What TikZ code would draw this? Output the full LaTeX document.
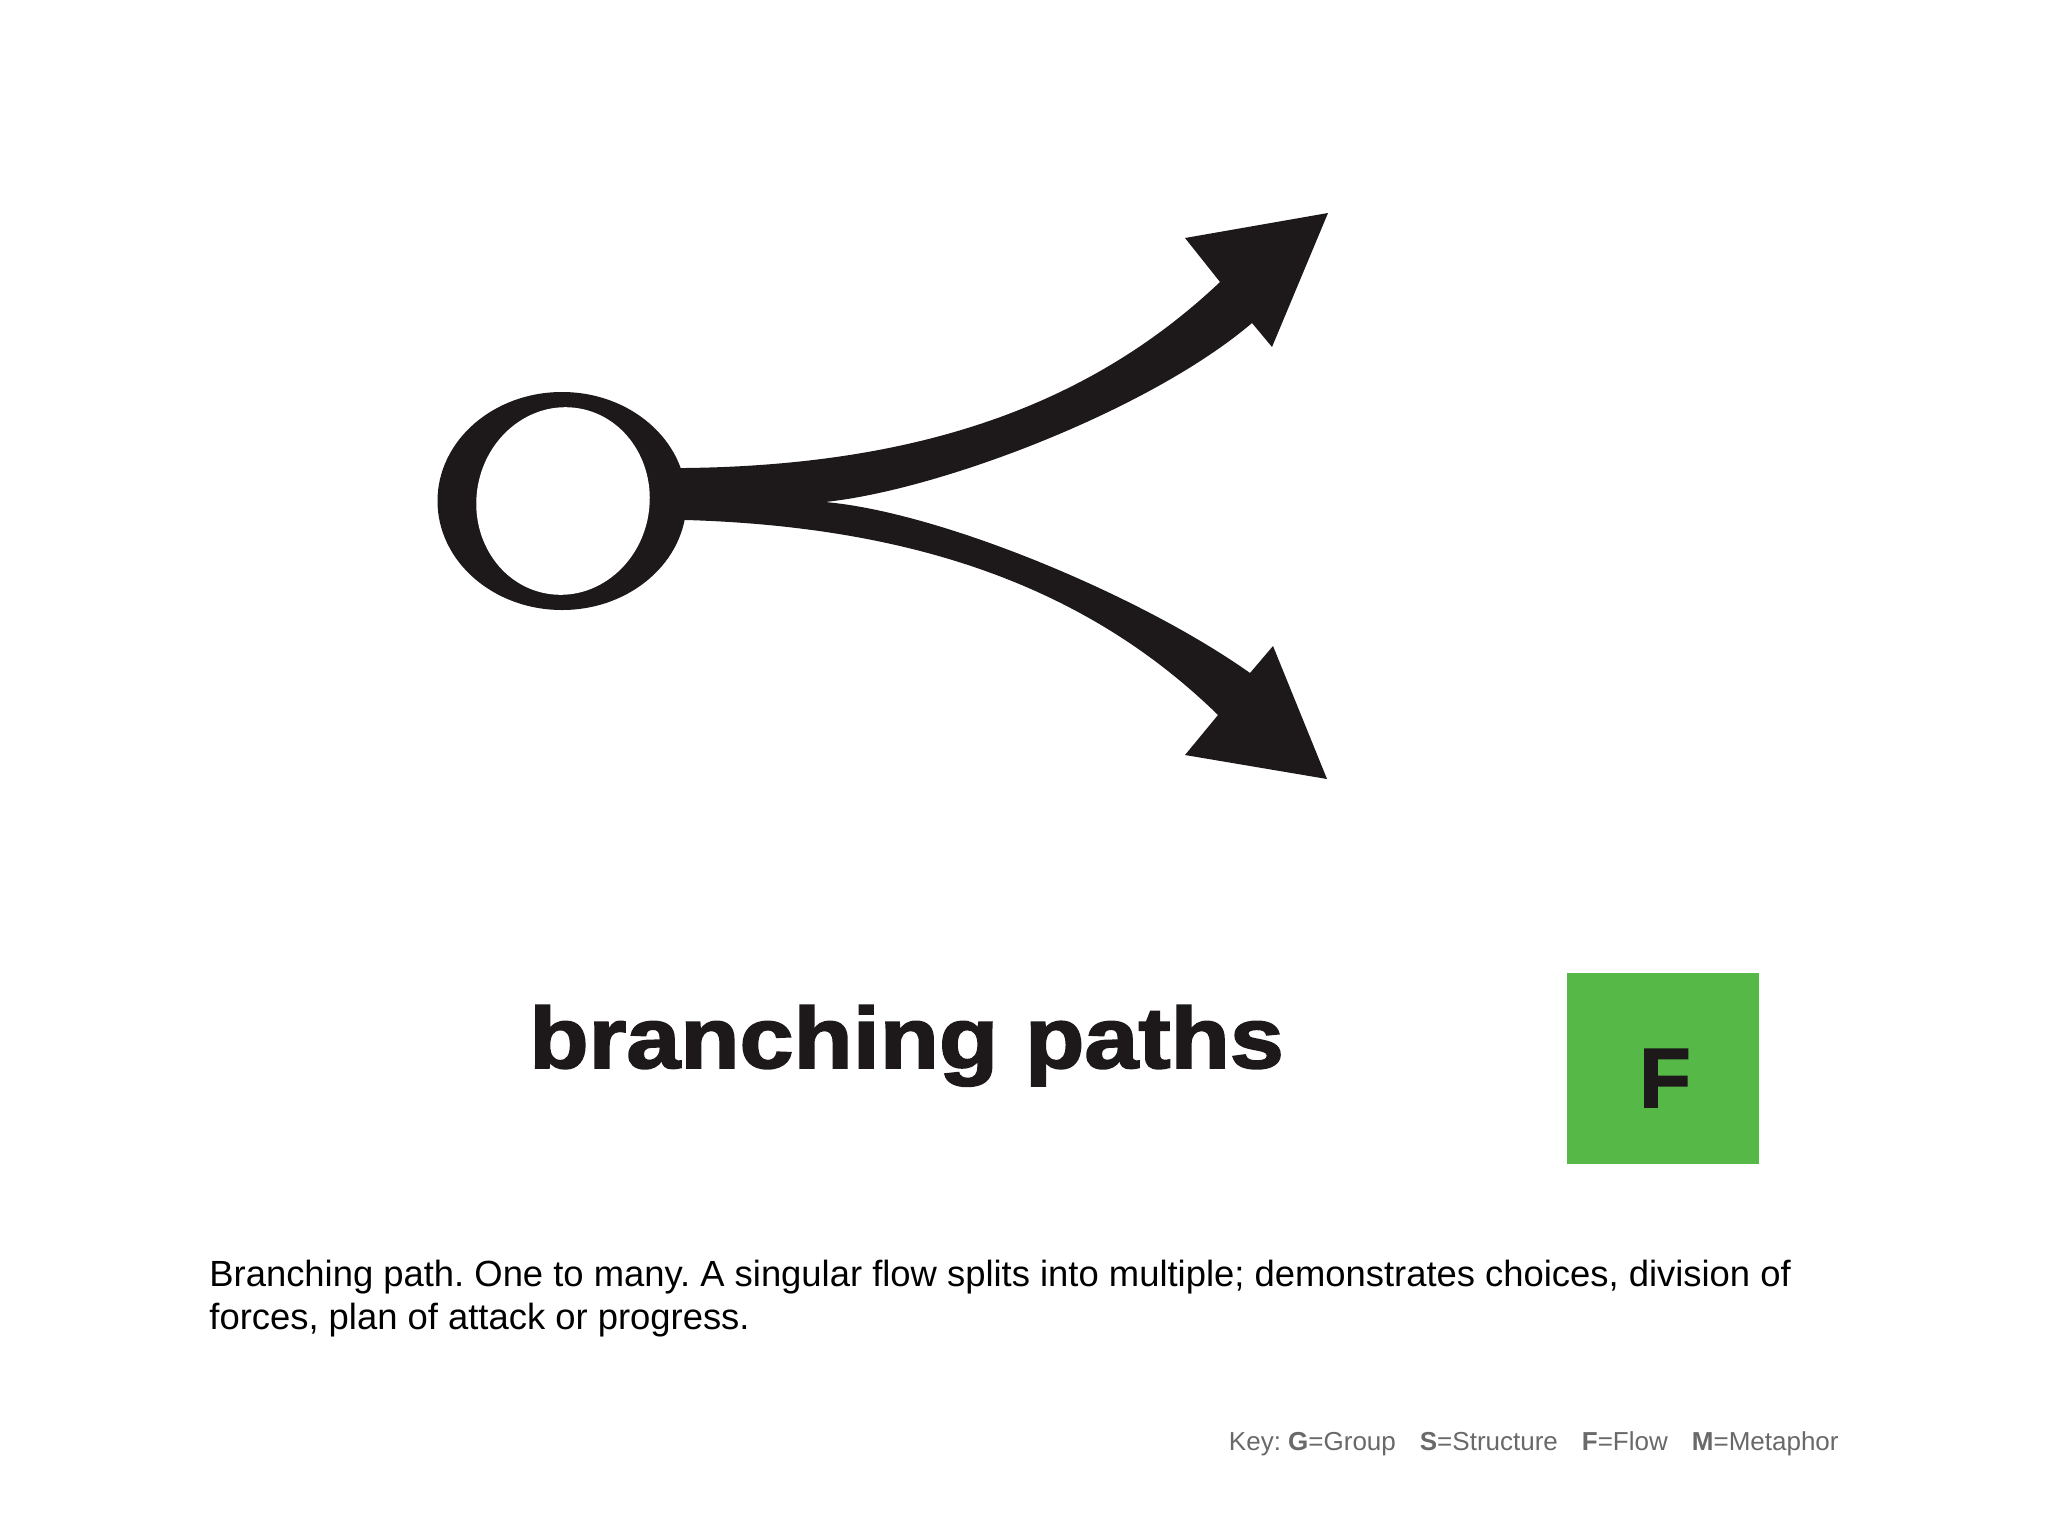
\documentclass[tikz,border=0pt]{standalone}
\usepackage{fontspec}
\setmainfont{Liberation Sans}
\newfontfamily\heavyfont[BoldFeatures={FakeBold=2}]{Liberation Sans}
\definecolor{ink}{RGB}{29,25,26}
\definecolor{fgreen}{RGB}{86,185,71}
\definecolor{keygray}{RGB}{105,105,105}
\frenchspacing
\begin{document}
\frenchspacing
\begin{tikzpicture}[x=0.5pt,y=-0.5pt,
  captext/.style={anchor=base west, inner sep=0pt, text=black, font=\fontsize{18.2pt}{21.5pt}\selectfont},
  fbox/.style={fill=fgreen, draw=none, minimum width=96pt, minimum height=95.5pt, inner sep=0pt},
  heavytext/.style={inner sep=0pt, text=ink, font=\heavyfont\bfseries\fontsize{43.3pt}{50pt}\selectfont}]
\useasboundingbox (0,0) rectangle (2048,1536);
\fill[white] (0,0) rectangle (2048,1536);
% branching body
\fill[ink] (660,468) -- (686,468) .. controls (920,465) and (1090,405) .. (1220,282)
  -- (1185,238) -- (1328,213) -- (1272,347) -- (1252,323)
  .. controls (1150,410) and (940,490) .. (825,502)
  .. controls (940,512) and (1140,595) .. (1250,673)
  -- (1273,646) -- (1327,779) -- (1185,755) -- (1218,715)
  .. controls (1090,590) and (920,527) .. (686,520) -- (660,520) -- cycle;
% ring
\fill[ink] (562,501) ellipse [x radius=124.5, y radius=109];
\fill[white, rotate around={-10:(563,501)}] (563,501) ellipse [x radius=86.5, y radius=94];
% title
\node[heavytext, anchor=base west] (title) at (529,1068) {\scalebox{1.12}[1]{branching paths}};
% green key box
\node[fbox] (fbox) at (1663,1068.5) {};
\node[heavytext, anchor=base, font=\heavyfont\bfseries\fontsize{42pt}{46pt}\selectfont] (flabel) at (1665,1107) {F};
% caption
\node[captext] (cap1) at (209,1286) {Branching path. One to many. A singular flow splits into multiple; demonstrates choices, division of};
\node[captext] (cap2) at (209,1329) {forces, plan of attack or progress.};
% key
\node[anchor=base east, inner sep=0pt, text=keygray, font=\fontsize{13pt}{15pt}\selectfont] (key) at (1839,1450) {Key: \textbf{G}=Group\hspace{12pt}\textbf{S}=Structure\hspace{12pt}\textbf{F}=Flow\hspace{12pt}\textbf{M}=Metaphor};
\end{tikzpicture}
\end{document}
